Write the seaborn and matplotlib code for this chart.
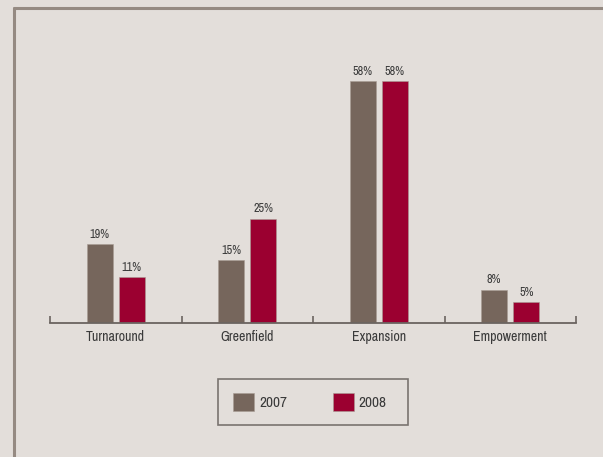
import matplotlib
matplotlib.use("Agg")
import matplotlib.pyplot as plt
from matplotlib.lines import Line2D
from matplotlib.patches import Patch, Rectangle
from matplotlib import font_manager
import seaborn as sns
import pandas as pd

categories = ["Turnaround", "Greenfield", "Expansion", "Empowerment"]
years = ["2007", "2008"]
values_2007 = [19, 15, 58, 8]
values_2008 = [11, 25, 58, 5]

bg = "#e3deda"
colors = {"2007": "#76665c", "2008": "#9b0030"}
text_color = "#3a3a3a"

df = pd.DataFrame({
    "category": categories * 2,
    "year": [years[0]] * 4 + [years[1]] * 4,
    "value": values_2007 + values_2008,
})

sns.set_theme(style="white")

# prefer a narrow/condensed face if one is installed
narrow = None
for f in font_manager.fontManager.ttflist:
    if "Narrow" in f.name or "Condensed" in f.name:
        narrow = f.name
        break
families = [narrow, "DejaVu Sans"] if narrow else ["DejaVu Sans"]
plt.rcParams["font.family"] = families

W, H = 603, 457
fig = plt.figure(figsize=(W / 100, H / 100), dpi=100)
fig.patch.set_facecolor(bg)
ax = fig.add_axes([50 / W, 134 / H, 526 / W, 283 / H])
ax.set_facecolor(bg)

sns.barplot(data=df, x="category", y="value", hue="year", order=categories,
            hue_order=years, palette=colors, width=0.487, gap=0.185,
            saturation=1, legend=False, ax=ax, errorbar=None,
            edgecolor="#a89c94", linewidth=0.4)

for cont in ax.containers:
    ax.bar_label(cont, labels=[f"{v:.0f}%" for v in cont.datavalues],
                 padding=3, fontsize=8.8, color=text_color)

ax.set_xlim(-0.5, 3.5)
ax.set_ylim(0, 67.8)
ax.set_xlabel("")
ax.set_ylabel("")
ax.set_yticks([])

# boundary ticks on the baseline, labels centered under each group
ax.set_xticks([-0.5, 0.5, 1.5, 2.5, 3.5])
ax.set_xticklabels([])
ax.set_xticks(range(len(categories)), minor=True)
ax.set_xticklabels(categories, minor=True, fontsize=10, color=text_color)
ax.tick_params(axis="x", which="major", direction="in", length=5, width=1.2,
               color="#6b6460", bottom=True)
ax.tick_params(axis="x", which="minor", length=0, pad=5)

for side in ["top", "right", "left"]:
    ax.spines[side].set_visible(False)
ax.spines["bottom"].set_color("#6b6460")
ax.spines["bottom"].set_linewidth(1.3)

# outer frame along the top and left
fig.add_artist(Line2D([14 / W, 1.0], [1 - 8 / H, 1 - 8 / H],
                      transform=fig.transFigure, color="#958a82", lw=2.2))
fig.add_artist(Line2D([14 / W, 14 / W], [0, 1 - 8 / H],
                      transform=fig.transFigure, color="#958a82", lw=2.2))

# legend box
fig.add_artist(Rectangle((218 / W, 1 - 425 / H), 190 / W, 46 / H,
                         transform=fig.transFigure, facecolor="none",
                         edgecolor="#7a7470", linewidth=1.2))

handles = [Patch(facecolor=colors[y], edgecolor="#a89c94", linewidth=0.4) for y in years]
leg = fig.legend(handles, years, loc="center left",
                 bbox_to_anchor=(233 / W, 1 - 402 / H), ncol=2,
                 frameon=False, fontsize=11, handlelength=1.4, handleheight=1.4,
                 columnspacing=3.0, handletextpad=0.3, borderpad=0,
                 borderaxespad=0, labelcolor=text_color)

fig.savefig("out.png", dpi=100, facecolor=bg)
